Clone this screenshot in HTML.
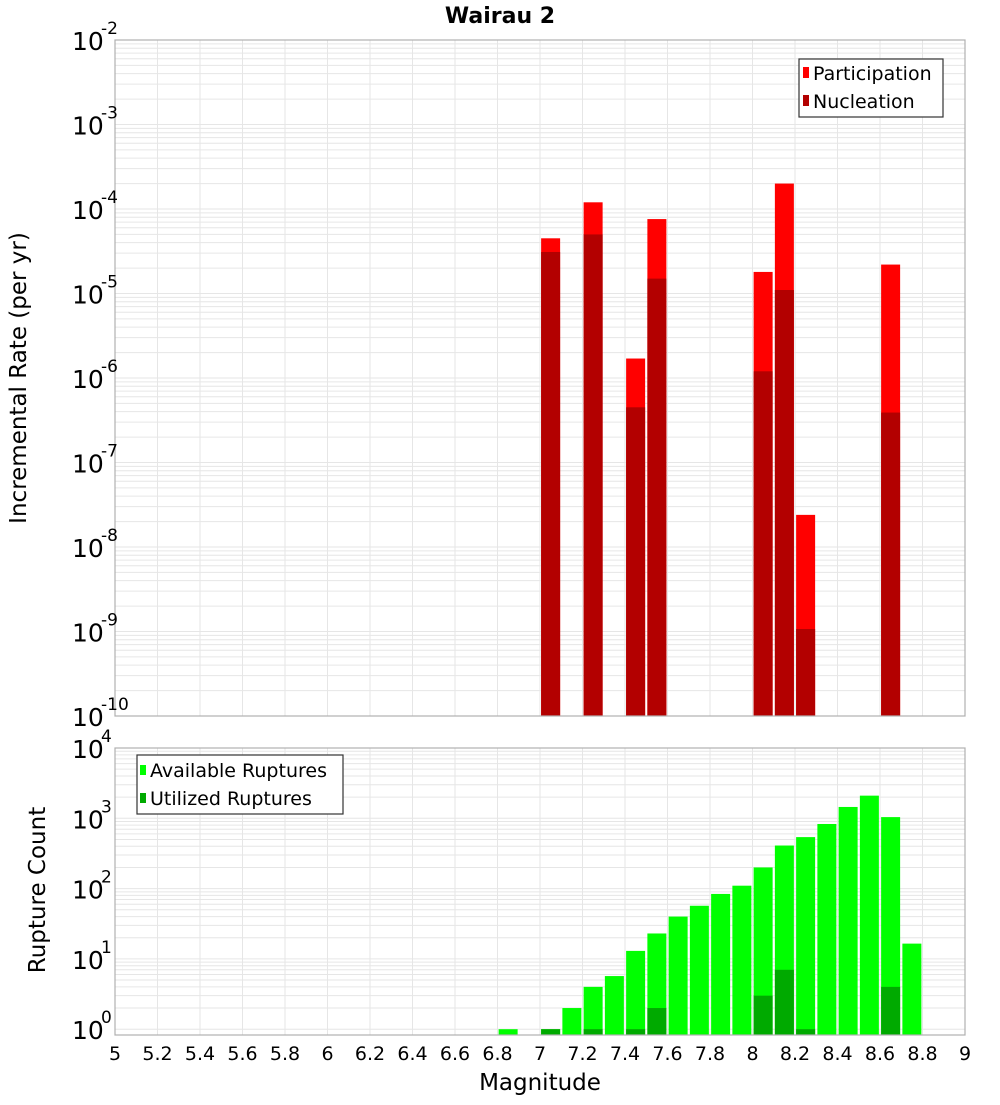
<!DOCTYPE html>
<html><head><meta charset="utf-8"><style>
body{margin:0;background:#fff;width:1000px;height:1100px;overflow:hidden}
svg text{font-family:"DejaVu Sans","Liberation Sans",sans-serif}
</style></head><body>
<svg id="chart" width="1000" height="1100" xmlns="http://www.w3.org/2000/svg">
<text x="500" y="23" text-anchor="middle" font-size="22" font-weight="bold">Wairau 2</text>
<g id="gtop"></g>
<g id="gbot"></g>
<text transform="translate(26,378) rotate(-90)" text-anchor="middle" font-size="23">Incremental Rate (per yr)</text>
<text transform="translate(45,890) rotate(-90)" text-anchor="middle" font-size="23">Rupture Count</text>
<text x="540" y="1090" text-anchor="middle" font-size="23">Magnitude</text>
<g>
<rect x="799" y="59" width="144" height="58" fill="#fff" stroke="#333" stroke-width="1.2"/>
<rect x="803" y="67" width="6" height="11" fill="#ff0000"/>
<text x="813" y="80" font-size="19">Participation</text>
<rect x="803" y="95" width="6" height="11" fill="#b30000"/>
<text x="813" y="108" font-size="19">Nucleation</text>
</g>
<g>
<rect x="137" y="755" width="206" height="59" fill="#fff" stroke="#333" stroke-width="1.2"/>
<rect x="140" y="765" width="6" height="10" fill="#00ff00"/>
<text x="150" y="777" font-size="19">Available Ruptures</text>
<rect x="140" y="793" width="6" height="10" fill="#00aa00"/>
<text x="150" y="805" font-size="19">Utilized Ruptures</text>
</g>
</svg>
<script>
const mags=[6.85,6.95,7.05,7.15,7.25,7.35,7.45,7.55,7.65,7.75,7.85,7.95,8.05,8.15,8.25,8.35,8.45,8.55,8.65,8.75];
const available=[1,0,1,2,4,5.7,13,23,40,57,84,110,200,410,540,830,1450,2100,1040,16.5];
const utilized=[0,0,1,0,1,0,1,2,0,0,0,0,3,7,1,0,0,0,4,0];
const rateMags=[7.05,7.25,7.45,7.55,8.05,8.15,8.25,8.65];
const participation=[4.5e-5,1.2e-4,1.7e-6,7.6e-5,1.8e-5,2.0e-4,2.4e-8,2.2e-5];
const nucleation=[3.1e-5,5.0e-5,4.5e-7,1.5e-5,1.2e-6,1.1e-5,1.07e-9,3.9e-7];
const xTicks=[5,5.2,5.4,5.6,5.8,6,6.2,6.4,6.6,6.8,7,7.2,7.4,7.6,7.8,8,8.2,8.4,8.6,8.8,9];
const rateExps=[-2,-3,-4,-5,-6,-7,-8,-9,-10];
const countExps=[4,3,2,1,0];

const NS="http://www.w3.org/2000/svg";
const L=115,R=965;
const x=m=>L+(m-5)*(R-L)/4;
const T1=40,B1=716;
const yTop=v=>T1+(-2-Math.log10(v))*(B1-T1)/8;
const T2=748,B2=1035,DEC=70.3;
const yBot=v=>T2+(4-Math.log10(v))*DEC;
function el(p,tag,a){const e=document.createElementNS(NS,tag);for(const k in a)e.setAttribute(k,a[k]);p.appendChild(e);return e;}
const gTop=document.getElementById('gtop'),gBot=document.getElementById('gbot');
const BW=19;

function grid(g,T,B,yf,exps,name){
  el(g,'rect',{x:L,y:T,width:R-L,height:B-T,fill:'#fff'});
  for(let i=0;i<exps.length-1;i++){
    const lo=Math.min(exps[i],exps[i+1]);
    for(let k=1;k<10;k++){const yy=yf(k*Math.pow(10,lo));
      if(yy<T-0.5||yy>B+0.5)continue;
      const ln=el(g,'line',{x1:L,x2:R,y1:yy,y2:yy,stroke:'#e6e6e6','stroke-width':1});
      
      }
  }
  for(const t of xTicks){const ln=el(g,'line',{x1:x(t),x2:x(t),y1:T,y2:B,stroke:'#e6e6e6','stroke-width':1});
    
    }
}
function frame(g,T,B){const r=el(g,'rect',{x:L,y:T,width:R-L,height:B-T,fill:'none',stroke:'#b0b0b0','stroke-width':1.2});
  
  }
function ylabels(g,yf,exps,name){
  for(const e of exps){const yy=yf(Math.pow(10,e));
    const t=el(g,'text',{x:72,y:yy+10,'font-size':25});
    
    
    t.textContent='10';
    const s=el(g,'text',{x:101,y:yy-6,'font-size':17});
    
    
    s.textContent=String(e);}
}
grid(gTop,T1,B1,yTop,rateExps,'rate');
rateMags.forEach((m,i)=>{
  const r1=el(gTop,'rect',{x:x(m)-BW/2,y:yTop(participation[i]),width:BW,height:B1-yTop(participation[i]),fill:'#ff0000'});
  
  
  const r2=el(gTop,'rect',{x:x(m)-BW/2,y:yTop(nucleation[i]),width:BW,height:B1-yTop(nucleation[i]),fill:'#b30000'});
  
  
});
frame(gTop,T1,B1);ylabels(gTop,yTop,rateExps,'rate');

grid(gBot,T2,B2,yBot,countExps,'count');
mags.forEach((m,i)=>{
  if(available[i]>0){const r1=el(gBot,'rect',{x:x(m)-BW/2,y:yBot(available[i]),width:BW,height:B2-yBot(available[i]),fill:'#00ff00'});
    
    }
  if(utilized[i]>0){const r2=el(gBot,'rect',{x:x(m)-BW/2,y:yBot(utilized[i]),width:BW,height:B2-yBot(utilized[i]),fill:'#00aa00'});
    
    }
});
frame(gBot,T2,B2);ylabels(gBot,yBot,countExps,'count');
for(const t of xTicks){const tx=el(gBot,'text',{x:x(t),y:1060,'text-anchor':'middle','font-size':19});
  
  
  tx.textContent=String(t);}
</script>
</body></html>
